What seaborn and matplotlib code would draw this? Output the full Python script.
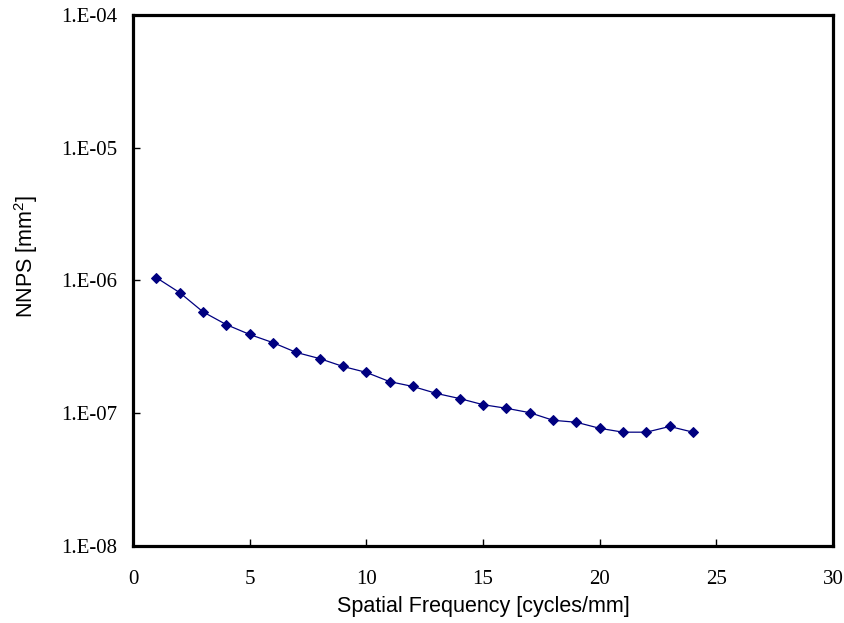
import matplotlib
matplotlib.use("Agg")
import matplotlib.pyplot as plt
import matplotlib.ticker as mticker
import seaborn as sns
import pandas as pd

freq = list(range(1, 25))
nnps = [1.05e-6, 8.1e-7, 5.8e-7, 4.65e-7, 3.92e-7, 3.4e-7, 2.87e-7, 2.58e-7,
        2.25e-7, 2.03e-7, 1.73e-7, 1.59e-7, 1.41e-7, 1.29e-7, 1.16e-7, 1.09e-7,
        1.01e-7, 8.85e-8, 8.55e-8, 7.7e-8, 7.2e-8, 7.2e-8, 7.95e-8, 7.2e-8]
ytick_vals = [1e-8, 1e-7, 1e-6, 1e-5, 1e-4]
ytick_labels = ["1.E-08", "1.E-07", "1.E-06", "1.E-05", "1.E-04"]
xtick_vals = [0, 5, 10, 15, 20, 25, 30]

df = pd.DataFrame({"freq": freq, "nnps": nnps})

sns.set_style("white")
plt.rcParams['font.family'] = ['Liberation Sans', 'DejaVu Sans']
plt.rcParams['mathtext.fontset'] = 'custom'
plt.rcParams['mathtext.rm'] = 'Liberation Sans'
plt.rcParams['text.color'] = 'black'
plt.rcParams['axes.labelcolor'] = 'black'
plt.rcParams['xtick.color'] = 'black'
plt.rcParams['ytick.color'] = 'black'

fig = plt.figure(figsize=(8.44, 6.23), dpi=100)
ax = fig.add_axes([0.1576, 0.1236, 0.987 - 0.1576, 0.976 - 0.1236])

sns.lineplot(data=df, x="freq", y="nnps", ax=ax, color="#000080", marker="D",
             markersize=5.5, markeredgecolor="#000080", linewidth=0.9)

ax.set_yscale("log")
ax.set_ylim(1e-8, 1e-4)
ax.set_xlim(0, 30)
ax.yaxis.set_major_locator(mticker.FixedLocator(ytick_vals))
ax.yaxis.set_major_formatter(mticker.FixedFormatter(ytick_labels))
ax.yaxis.set_minor_locator(mticker.NullLocator())
ax.xaxis.set_major_locator(mticker.FixedLocator(xtick_vals))

for s in ax.spines.values():
    s.set_linewidth(2.3)
    s.set_color("black")
    s.set_visible(True)

ax.tick_params(axis="both", which="major", direction="in", length=5, width=1,
               labelsize=15, left=True, bottom=True, colors="black")
ax.tick_params(axis="y", pad=11.5)
ax.tick_params(axis="x", pad=17)
for lab in ax.get_xticklabels() + ax.get_yticklabels():
    lab.set_fontfamily(["Liberation Serif", "DejaVu Serif"])

ax.set_xlabel("Spatial Frequency [cycles/mm]", fontsize=15.5, labelpad=5, color="black")
ax.set_ylabel(r"NNPS [mm$\mathregular{^2}$]", fontsize=15.5, labelpad=17, color="black")
ax.yaxis.set_label_coords(-0.133, 0.545)

fig.savefig("out.png", dpi=100)
